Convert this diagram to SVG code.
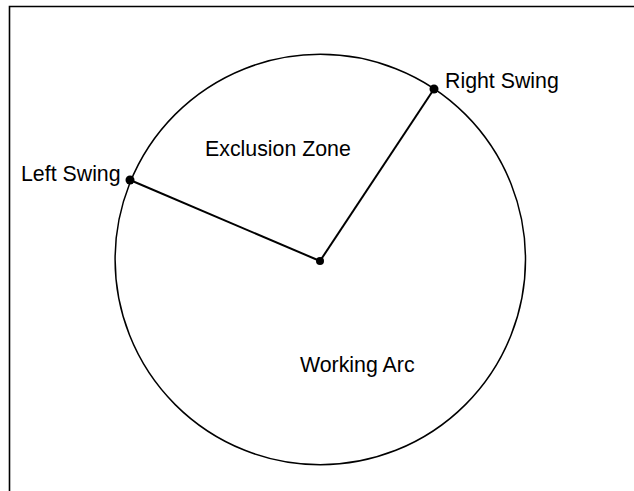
<svg xmlns="http://www.w3.org/2000/svg" width="634" height="491" viewBox="0 0 634 491">
<style>
text{font-family:"Liberation Sans",Arial,sans-serif;font-size:21.33px;fill:#000}
.ln{stroke:#000;stroke-width:2;fill:none}
</style>
<rect width="634" height="491" fill="#fff"/>
<path d="M9.5 491V6.5H634" stroke="#000" stroke-width="1.6" fill="none"/>
<g id="zone">
<circle cx="320.3" cy="259.5" r="205.2" fill="none" stroke="#000" stroke-width="1.5"/>
</g>
<g id="connectors">
<line class="ln" x1="320" y1="261" x2="130" y2="180"/>
<line class="ln" x1="320" y1="261" x2="434" y2="89"/>
</g>
<g id="center"><circle cx="320" cy="261" r="4"/></g>
<g id="left-swing"><circle cx="130" cy="180" r="4.5"/><text x="21" y="181">Left Swing</text></g>
<g id="right-swing"><circle cx="434" cy="89" r="4.5"/><text x="445" y="88">Right Swing</text></g>
<g id="exclusion"><text x="205" y="156">Exclusion Zone</text></g>
<g id="working"><text x="300" y="372">Working Arc</text></g>
</svg>
